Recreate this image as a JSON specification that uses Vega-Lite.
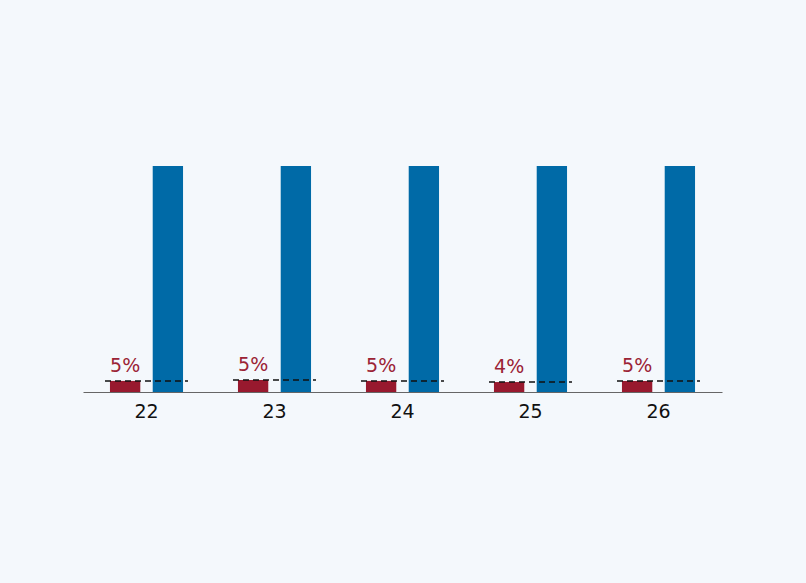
{
  "$schema": "https://vega.github.io/schema/vega-lite/v6.json",
  "width": 639,
  "height": 226,
  "autosize": {"type": "none"},
  "padding": {"left": 83, "top": 166, "right": 84, "bottom": 191},
  "background": "#f4f8fc",
  "config": {"view": {"stroke": null}, "font": "DejaVu Sans"},
  "data": {"values": [
    {"year": "22", "series": "a", "value": 4.9, "label": "5%"},
    {"year": "22", "series": "b", "value": 100},
    {"year": "23", "series": "a", "value": 5.3, "label": "5%"},
    {"year": "23", "series": "b", "value": 100},
    {"year": "24", "series": "a", "value": 4.9, "label": "5%"},
    {"year": "24", "series": "b", "value": 100},
    {"year": "25", "series": "a", "value": 4.4, "label": "4%"},
    {"year": "25", "series": "b", "value": 100},
    {"year": "26", "series": "a", "value": 4.9, "label": "5%"},
    {"year": "26", "series": "b", "value": 100}
  ]},
  "encoding": {
    "x": {
      "field": "year", "type": "nominal",
      "scale": {"paddingInner": 0.3516, "paddingOuter": 0.1719},
      "axis": {"title": null, "ticks": false, "labelAngle": 0, "labelFontSize": 19, "labelColor": "#111111", "labelPadding": 10, "domainColor": "#666666", "domainWidth": 1, "grid": false}
    },
    "y": {"field": "value", "type": "quantitative", "scale": {"domain": [0, 100]}, "axis": null}
  },
  "layer": [
    {
      "mark": {"type": "bar"},
      "encoding": {
        "xOffset": {"field": "series", "type": "nominal", "scale": {"domain": ["a", "b"], "paddingInner": 0.2907, "paddingOuter": 0.116}},
        "color": {"field": "series", "type": "nominal", "scale": {"domain": ["a", "b"], "range": ["#98192e", "#006aa7"]}, "legend": null}
      }
    },
    {
      "transform": [{"filter": "datum.series === 'a'"}],
      "mark": {"type": "rule", "color": "#111111", "strokeWidth": 1.5, "strokeDash": [6, 4]},
      "encoding": {
        "x": {"field": "year", "type": "nominal", "bandPosition": 0},
        "x2": {"field": "year", "bandPosition": 1}
      }
    },
    {
      "transform": [{"filter": "datum.series === 'a'"}],
      "mark": {"type": "text", "baseline": "bottom", "dy": -5, "fontSize": 19, "color": "#9b2335"},
      "encoding": {
        "xOffset": {"field": "series", "type": "nominal", "scale": {"domain": ["a", "b"], "paddingInner": 0.2907, "paddingOuter": 0.116}},
        "text": {"field": "label"}
      }
    }
  ]
}
